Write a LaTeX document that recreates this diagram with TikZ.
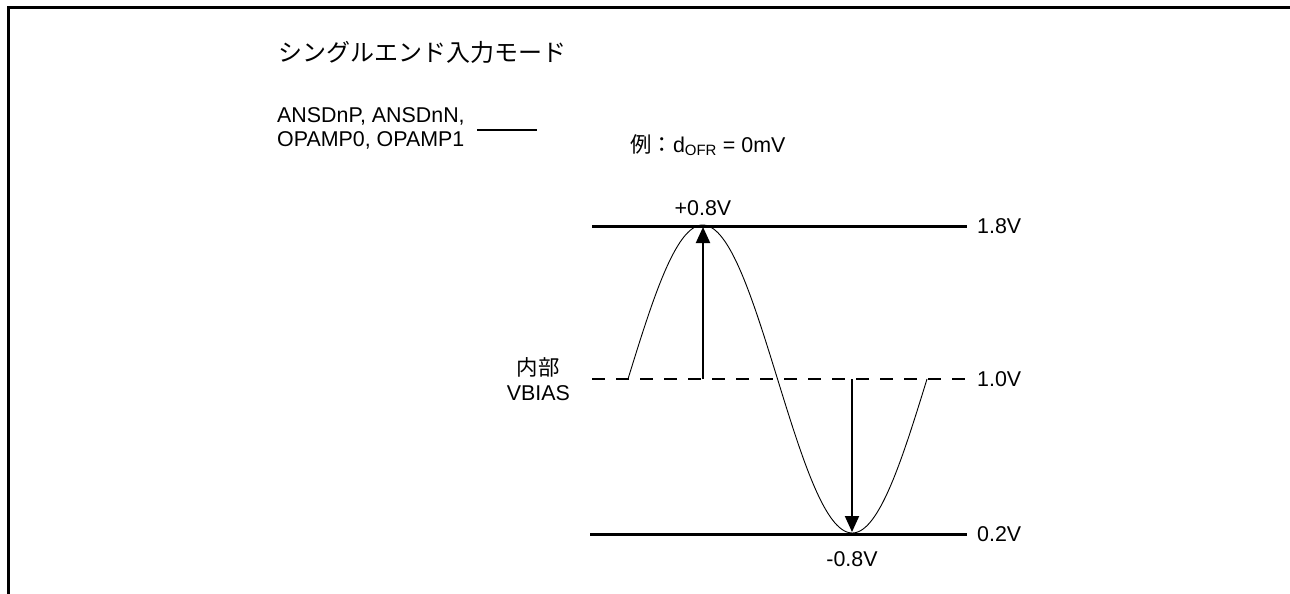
\documentclass[tikz,border=0pt]{standalone}
\usepackage{fontspec}
\setmainfont{Liberation Sans}
\newfontfamily\jp{Noto Sans CJK JP}
\usetikzlibrary{arrows.meta,positioning}
\tikzset{
  lbl/.style={font=\fontsize{21.4}{25}\selectfont,inner sep=0pt},
  ttl/.style={font=\jp\fontsize{24}{26}\selectfont,inner sep=0pt},
  lvl/.style={line width=3pt},
  bias/.style={line width=2pt,dash pattern=on 13pt off 11pt},
  wave/.style={line width=0.9pt},
  arr/.style={-{Triangle[length=16pt,width=14pt]},line width=2pt},
  frm/.style={line width=3pt},
}

\begin{document}
\begin{tikzpicture}[x=1pt,y=-1pt]
    \useasboundingbox (0,0) rectangle (1290,594);

    % ── Frame ─────────────────────────────────────────────────────────────────
    \draw[frm] (8,594) -- (8,8) -- (1290,8);

    % ── Heading and legend ────────────────────────────────────────────────────
    \node[ttl,anchor=base west] (head) at (278,62) {シングルエンド入力モード};
    \node[lbl,anchor=base west] (sigA) at (277,122) {ANSDnP, ANSDnN,};
    \node[lbl,anchor=base west] (sigB) at (277,146) {OPAMP0, OPAMP1};
    \coordinate (legA) at (477,130);
    \coordinate (legB) at (537,130);
    \draw[line width=2pt] (legA) -- (legB);
    \node[lbl,anchor=base west] (ex) at (630,152) {{\jp 例：}d\textsubscript{OFR} = 0mV};

    % ── Voltage levels ────────────────────────────────────────────────────────
    \coordinate (hiL)  at (592,226);
    \coordinate (hiR)  at (967,226);
    \coordinate (midL) at (592,379);
    \coordinate (midR) at (967,379);
    \coordinate (loL)  at (590,534);
    \coordinate (loR)  at (967,534);

    \draw[lvl]  (hiL) -- (hiR);
    \draw[bias] (midL) -- (midR);
    \draw[lvl]  (loL) -- (loR);

    \node[lbl,right=10pt of hiR]  (vhi)  {1.8V};
    \node[lbl,right=10pt of midR] (vmid) {1.0V};
    \node[lbl,right=10pt of loR]  (vlo)  {0.2V};
    \node[lbl,align=center,left=22pt of midL] (vb) {{\jp 内部}\\VBIAS};

    % ── Input signal ──────────────────────────────────────────────────────────
    \draw[wave] plot[domain=0:360,samples=150] ({628+\x*0.8306},{379-154*sin(\x)});

    \coordinate (pkB) at (703,379);
    \coordinate (pk)  at (703,227);
    \coordinate (trB) at (852,379);
    \coordinate (tr)  at (852,532);

    \draw[arr] (pkB) -- (pk);
    \draw[arr] (trB) -- (tr);

    \node[lbl,above=11pt of pk]  (pos) {+0.8V};
    \node[lbl,below=19pt of tr]  (neg) {-0.8V};

\end{tikzpicture}
\end{document}
